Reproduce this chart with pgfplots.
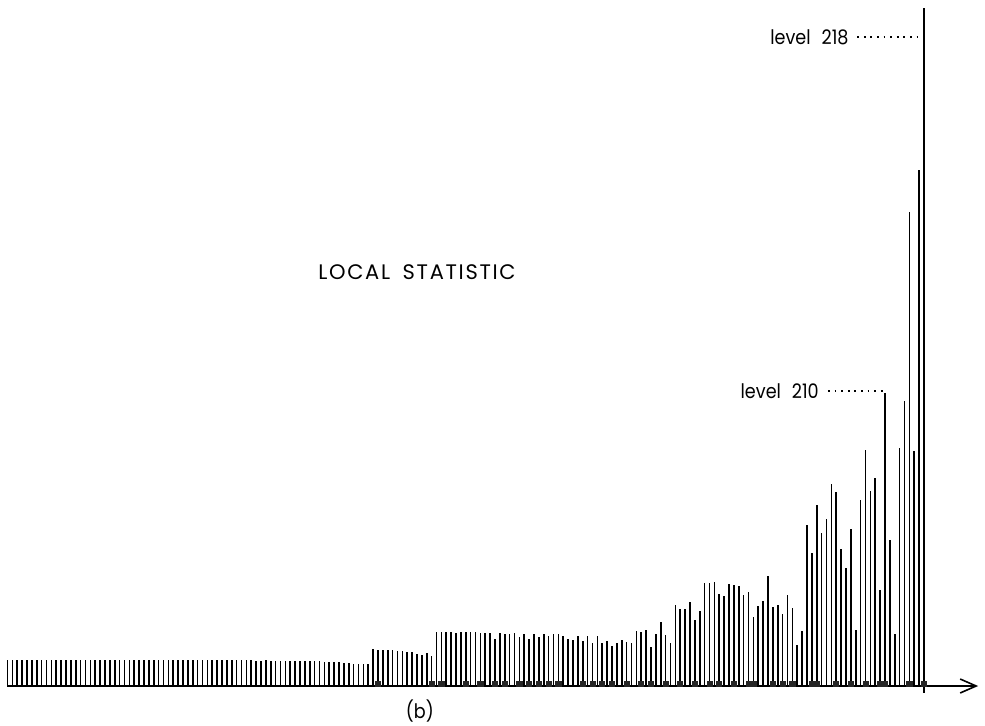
\documentclass[border=0pt]{standalone}
\usepackage{fontspec}
\setmainfont{Poppins}
\newfontfamily\lab[FakeStretch=0.88]{Poppins}
\newfontfamily\capsfont[LetterSpace=8]{Poppins}
\usepackage{pgfplots}
\pgfplotsset{compat=1.18}
\usepackage{pgfplotstable}
\usetikzlibrary{arrows.meta}

\pgfplotstableread{
i h
0 26
1 26.5
2 26
3 26
4 26.5
5 26
6 26.5
7 26
8 26
9 26.5
10 26
11 26
12 26.5
13 26
14 26
15 26.5
16 26
17 26
18 26.5
19 26
20 26
21 26.5
22 26
23 26
24 26.5
25 26
26 26
27 26
28 26.5
29 26
30 26
31 26.5
32 26
33 26
34 26
35 26.5
36 26
37 26
38 26.5
39 26
40 26
41 26
42 26.5
43 26
44 26
45 26
46 26.5
47 26
48 26
49 26
50 26
51 25.5
52 25.5
53 26
54 25.5
55 25.5
56 25.5
57 25.5
58 25.5
59 25.5
60 25.5
61 25.5
62 25
63 25.5
64 25.5
65 24
66 24
67 24
68 24
69 23
70 23.5
71 22
72 22
73 22
74 22
75 37
76 36.3
77 35.7
78 35.7
79 35.7
80 35.2
81 34.8
82 33.7
83 33.7
84 32.2
85 30.7
86 33.5
87 30
88 53.7
89 53.7
90 53.7
91 53.7
92 52.7
93 53.7
94 53.7
95 53.7
96 53.7
97 52.7
98 52.7
99 52.7
100 47
101 52.7
102 51.7
103 52.3
104 52.7
105 48.7
106 52.3
107 47
108 52
109 48.7
110 52
111 49.7
112 52
113 52.5
114 50.5
115 47.5
116 46.5
117 50.3
118 45.5
119 50.5
120 43.5
121 50.3
122 42.7
123 44.7
124 39.7
125 43.3
126 46.3
127 43.7
128 43.3
129 55.3
130 54.3
131 55.7
132 38.7
133 52.2
134 64.5
135 51.3
136 43.3
137 81.3
138 77.3
139 77.3
140 84.5
141 66.5
142 75
143 103
144 103
145 104.5
146 92.5
147 90
148 102.5
149 101
150 100.5
151 91.5
152 94
153 69.3
154 80
155 85
156 110
157 78.7
158 81
159 72
160 91
161 77.7
162 41
163 55
164 160.7
165 133
166 180.7
167 152.7
168 167
169 202.3
170 193.7
171 136.7
172 117.7
173 157
174 56
175 186
176 236
177 195
178 208
179 96
180 293
181 146
182 52
183 238
184 285
185 474
186 235
187 516
188 678
}\spikes

\begin{document}
\begin{tikzpicture}
\begin{axis}[
  scale only axis, width=492.5pt, height=362.5pt,
  xmin=-1.538, xmax=200.51, ymin=-39, ymax=686,
  axis line style={draw=none}, ticks=none, clip=false,
]
\coordinate (bl) at (rel axis cs:0,0);
\coordinate (tr) at (rel axis cs:1,1);
\addplot[ycomb, black, line width=0.8pt, mark=none] table[x=i,y=h]{\spikes};
\addplot[only marks, mark=square*, mark size=1.3pt, black!85] coordinates {
(76,2.5) (87,2.5) (89,2.5) (94,2.5) (97,2.5) (100,2.5) (102,2.5) (105,2.5)
(107,2.5) (109,2.5) (111,2.5) (113,2.5) (118,2.5) (120,2.5) (122,2.5) (124,2.5)
(127,2.5) (130,2.5) (132,2.5) (135,2.5) (138,2.5) (141,2.5) (144,2.5) (146,2.5)
(149,2.5) (152,2.5) (153,2.5) (157,2.5) (159,2.5) (161,2.5) (165,2.5) (166,2.5)
(170,2.5) (173,2.5) (176,2.5) (179,2.5) (180,2.5) (185,2.5) (188,2.5)};
\draw[line width=0.8pt, -{Straight Barb[length=8pt,width=7pt]}] (axis cs:-0.1,0) -- (axis cs:199.1,0);
\draw[line width=0.8pt] (axis cs:188,0) -- (axis cs:188,-7);
\draw[line width=0.9pt, dash pattern=on 0.9pt off 2.4pt] (axis cs:174.3,649) -- (axis cs:188,649);
\node[anchor=east, inner sep=0pt, font=\lab] at (axis cs:172.6,649) {level\hspace{0.55em}218};
\draw[line width=0.9pt, dash pattern=on 0.9pt off 2.4pt] (axis cs:168.3,295) -- (axis cs:179.6,295);
\node[anchor=east, inner sep=0pt, font=\lab] at (axis cs:166.5,295) {level\hspace{0.55em}210};
\node[inner sep=0pt, font=\capsfont\fontsize{10.5}{12}\selectfont] at (axis cs:84,414) {LOCAL\hspace{0.6em}STATISTIC};
\node[inner sep=0pt, font=\lab] at (axis cs:84.6,-25) {(b)};
\end{axis}
\pgfresetboundingbox
\useasboundingbox (bl) rectangle (tr);
\end{tikzpicture}
\end{document}
